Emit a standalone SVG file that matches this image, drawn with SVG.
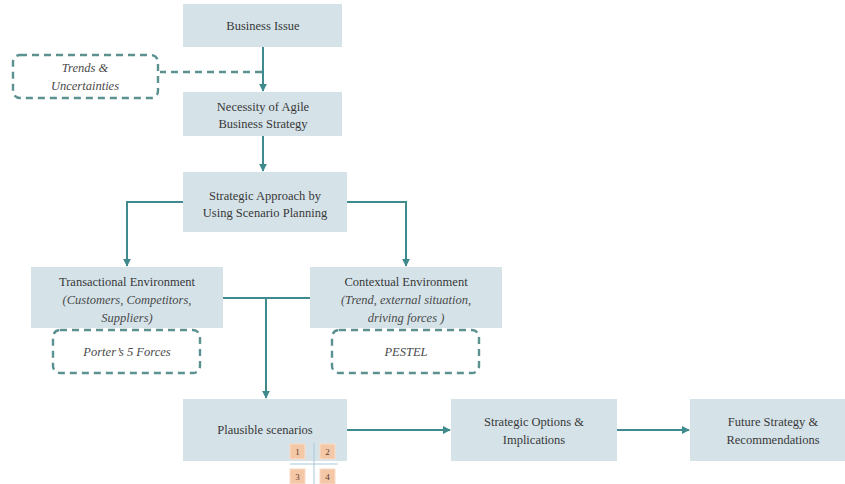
<svg xmlns="http://www.w3.org/2000/svg" width="845" height="484" viewBox="0 0 845 484" font-family="Liberation Serif, Times New Roman, serif">
  <style>
    .box { fill: #d5e3e9; }
    .dash { fill: none; stroke: #5b9190; stroke-width: 2.4; stroke-dasharray: 7 5; }
    .t { font-size: 12.5px; fill: #383838; text-anchor: middle; }
    .i { font-style: italic; fill: #4a4a4a; }
    .link { fill: none; stroke: #3f8a8c; stroke-width: 2; }
    .dlink { fill: none; stroke: #5b9190; stroke-width: 2.4; stroke-dasharray: 7 5; }
    .tile { fill: #f4c7a7; stroke: #f9dcc8; stroke-width: 1; }
    .num { font-size: 9px; fill: #5a3a2a; text-anchor: middle; }
  </style>
  <defs>
    <marker id="arrow" viewBox="0 0 10 10" refX="9" refY="5" markerWidth="4" markerHeight="4" orient="auto">
      <path d="M0,0 L10,5 L0,10 z" fill="#3f8a8c"/>
    </marker>
  </defs>

  <rect width="845" height="484" fill="#ffffff"/>

  <!-- connectors -->
  <g id="connectors">
    <line class="dlink" x1="262" y1="72" x2="160" y2="72"/>
    <line class="link" x1="263" y1="47" x2="263" y2="91" marker-end="url(#arrow)"/>
    <line class="link" x1="263" y1="136" x2="263" y2="171" marker-end="url(#arrow)"/>
    <polyline class="link" points="183,202 127,202 127,266" marker-end="url(#arrow)"/>
    <polyline class="link" points="347,202 406,202 406,266" marker-end="url(#arrow)"/>
    <line class="link" x1="223" y1="298" x2="310" y2="298"/>
    <line class="link" x1="266" y1="298" x2="266" y2="398" marker-end="url(#arrow)"/>
    <line class="link" x1="347" y1="430" x2="450" y2="430" marker-end="url(#arrow)"/>
    <line class="link" x1="617" y1="430" x2="689" y2="430" marker-end="url(#arrow)"/>
  </g>

  <g id="business-issue">
    <rect class="box" x="183" y="4" width="159" height="43"/>
    <text class="t" x="263" y="30">Business Issue</text>
  </g>

  <g id="trends">
    <rect class="dash" x="13" y="55" width="145" height="43" rx="7"/>
    <text class="t i" x="85" y="72">Trends &amp;</text>
    <text class="t i" x="85" y="90">Uncertainties</text>
  </g>

  <g id="necessity">
    <rect class="box" x="183" y="92" width="159" height="44"/>
    <text class="t" x="263" y="111">Necessity of Agile</text>
    <text class="t" x="263" y="128">Business Strategy</text>
  </g>

  <g id="strategic-approach">
    <rect class="box" x="183" y="172" width="164" height="60"/>
    <text class="t" x="265" y="200">Strategic Approach by</text>
    <text class="t" x="265" y="217">Using Scenario Planning</text>
  </g>

  <g id="transactional">
    <rect class="box" x="31" y="267" width="192" height="61"/>
    <text class="t" x="127" y="286">Transactional Environment</text>
    <text class="t i" x="127" y="304">(Customers, Competitors,</text>
    <text class="t i" x="127" y="322">Suppliers)</text>
  </g>

  <g id="contextual">
    <rect class="box" x="310" y="267" width="192" height="61"/>
    <text class="t" x="406" y="286">Contextual Environment</text>
    <text class="t i" x="406" y="304">(Trend, external situation,</text>
    <text class="t i" x="406" y="322">driving forces )</text>
  </g>

  <g id="porter">
    <rect class="dash" x="53" y="330" width="147" height="43" rx="7"/>
    <text class="t i" x="127" y="356">Porter’s 5 Forces</text>
  </g>

  <g id="pestel">
    <rect class="dash" x="332" y="330" width="147" height="43" rx="7"/>
    <text class="t i" x="406" y="356">PESTEL</text>
  </g>

  <g id="plausible">
    <rect class="box" x="183" y="399" width="164" height="62"/>
    <text class="t" x="265" y="434">Plausible scenarios</text>
    <g id="quadrants">
      <line x1="314" y1="443" x2="314" y2="484" stroke="#a9c9dc" stroke-width="1"/>
      <line x1="290" y1="464" x2="338" y2="464" stroke="#a9c9dc" stroke-width="1"/>
      <rect class="tile" x="290" y="444" width="15" height="15"/>
      <rect class="tile" x="320" y="444" width="15" height="15"/>
      <rect class="tile" x="290" y="469" width="15" height="15"/>
      <rect class="tile" x="320" y="469" width="15" height="15"/>
      <text class="num" x="297.5" y="454.5">1</text>
      <text class="num" x="327.5" y="454.5">2</text>
      <text class="num" x="297.5" y="479.5">3</text>
      <text class="num" x="327.5" y="479.5">4</text>
    </g>
  </g>

  <g id="strategic-options">
    <rect class="box" x="451" y="399" width="166" height="62"/>
    <text class="t" x="534" y="426">Strategic Options &amp;</text>
    <text class="t" x="534" y="444">Implications</text>
  </g>

  <g id="future-strategy">
    <rect class="box" x="690" y="399" width="166" height="62"/>
    <text class="t" x="773" y="426">Future Strategy &amp;</text>
    <text class="t" x="773" y="444">Recommendations</text>
  </g>
</svg>
